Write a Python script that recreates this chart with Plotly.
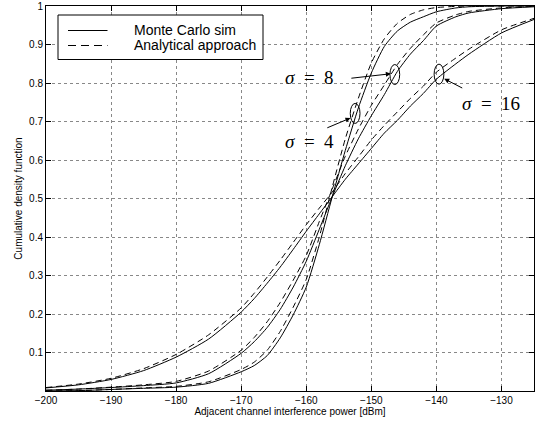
import plotly.graph_objects as go

# x positions (dBm)
x_vals = [-200, -195, -190, -185, -180, -175, -170, -168, -166, -164, -162, -160, -158, -156,
          -154, -152, -150, -148, -146, -144, -142, -140, -137, -135, -130, -125]

# sigma = 16
mc_s16 = [0.008, 0.016, 0.030, 0.053, 0.088, 0.135, 0.205, 0.240, 0.280, 0.322, 0.368, 0.415,
          0.460, 0.505, 0.550, 0.590, 0.630, 0.670, 0.703, 0.740, 0.773, 0.810, 0.850, 0.875,
          0.930, 0.965]
an_s16 = [0.009, 0.018, 0.033, 0.058, 0.095, 0.146, 0.216, 0.254, 0.296, 0.340, 0.386, 0.432,
          0.475, 0.517, 0.565, 0.608, 0.652, 0.690, 0.725, 0.760, 0.792, 0.828, 0.865, 0.888,
          0.938, 0.968]
# sigma = 8
mc_s8 = [0.002, 0.005, 0.009, 0.014, 0.021, 0.045, 0.098, 0.128, 0.165, 0.212, 0.270, 0.337,
         0.420, 0.505, 0.585, 0.655, 0.715, 0.770, 0.830, 0.875, 0.910, 0.948, 0.972, 0.982,
         0.993, 0.998]
an_s8 = [0.002, 0.005, 0.010, 0.016, 0.025, 0.052, 0.106, 0.139, 0.180, 0.230, 0.288, 0.352,
         0.440, 0.525, 0.610, 0.680, 0.742, 0.795, 0.848, 0.890, 0.925, 0.956, 0.977, 0.986,
         0.995, 0.999]
# sigma = 4
mc_s4 = [0.000, 0.001, 0.004, 0.007, 0.010, 0.020, 0.050, 0.066, 0.092, 0.138, 0.198, 0.270,
         0.380, 0.505, 0.625, 0.735, 0.826, 0.895, 0.935, 0.958, 0.972, 0.985, 0.995, 0.998,
         1.000, 1.000]
an_s4 = [0.000, 0.001, 0.004, 0.008, 0.012, 0.024, 0.056, 0.075, 0.106, 0.155, 0.218, 0.290,
         0.400, 0.530, 0.655, 0.760, 0.852, 0.915, 0.955, 0.978, 0.990, 0.996, 0.999, 1.000,
         1.000, 1.000]

x_ticks = [-200, -190, -180, -170, -160, -150, -140, -130]
y_ticks = [0.1, 0.2, 0.3, 0.4, 0.5, 0.6, 0.7, 0.8, 0.9, 1.0]
y_ticktext = ["0.1", "0.2", "0.3", "0.4", "0.5", "0.6", "0.7", "0.8", "0.9", "1"]

legend_names = ["Monte Carlo sim", "Analytical approach"]
legend_dashes = ["solid", "8px,5px"]

# sigma labels: (text, text_x, text_y, arrow head x, y, arrow tail x, y, ellipse cx, cy)
sigma_labels = [
    ("<i>σ</i>\u2002=\u20028", -159.45, 0.815, -147.0, 0.824, -153.3, 0.812, -146.39, 0.822),
    ("<i>σ</i>\u2002=\u20024", -159.55, 0.649, -153.2, 0.709, -157.0, 0.682, -152.49, 0.721),
    ("<i>σ</i>\u2002=\u200216", -131.6, 0.747, -138.8, 0.811, -135.8, 0.785, -139.6, 0.823),
]

# figure geometry (pixels)
W, H = 537, 421
ML, MR, MT, MB = 46, 3, 6, 30
PW, PH = W - ML - MR, H - MT - MB


def px_to_paper(px, py):
    return (px - ML) / PW, (H - MB - py) / PH


DASH = "6px,4px"
fig = go.Figure()
pairs = [(mc_s16, an_s16), (mc_s8, an_s8), (mc_s4, an_s4)]
for i, (mc, an) in enumerate(pairs):
    fig.add_trace(go.Scatter(x=x_vals, y=mc, mode="lines",
                             line=dict(color="black", width=1, shape="spline", smoothing=0.6),
                             name=legend_names[0], showlegend=False))
    fig.add_trace(go.Scatter(x=x_vals, y=an, mode="lines",
                             line=dict(color="black", width=1, dash=DASH, shape="spline", smoothing=0.6),
                             name=legend_names[1], showlegend=False))

for (txt, tx, ty, hx, hy, sx, sy, cx, cy) in sigma_labels:
    fig.add_annotation(x=tx, y=ty, xref="x", yref="y", text=txt, showarrow=False,
                       font=dict(family="Liberation Serif", size=19, color="black"))
    fig.add_annotation(x=hx, y=hy, ax=sx, ay=sy, xref="x", yref="y", axref="x", ayref="y",
                       text="", showarrow=True, arrowhead=2, arrowsize=1, arrowwidth=1,
                       arrowcolor="black")
    fig.add_shape(type="circle", xref="x", yref="y", x0=cx - 0.75, x1=cx + 0.75,
                  y0=cy - 0.026, y1=cy + 0.026, line=dict(color="black", width=1))

# legend box (drawn manually)
bx0, by0 = px_to_paper(58, 59.5)
bx1, by1 = px_to_paper(263, 15)
fig.add_shape(type="rect", xref="paper", yref="paper", x0=bx0, y0=by0, x1=bx1, y1=by1,
              fillcolor="white", line=dict(color="black", width=1), layer="above")
for k, (name, dsh, rowy) in enumerate(zip(legend_names, legend_dashes, [30.5, 45.5])):
    lx0, ly = px_to_paper(68, rowy)
    lx1, _ = px_to_paper(107.5, rowy)
    fig.add_shape(type="line", xref="paper", yref="paper", x0=lx0, x1=lx1, y0=ly, y1=ly,
                  line=dict(color="black", width=1, dash=dsh))
    tx, ty = px_to_paper(131.5, rowy)
    fig.add_annotation(x=tx, y=ty, xref="paper", yref="paper", text=name, showarrow=False,
                       xanchor="left", yanchor="middle",
                       font=dict(family="Liberation Sans", size=14, color="black"))

axis_common = dict(showline=True, linecolor="black", linewidth=1, mirror="ticks",
                   ticks="inside", ticklen=5, tickcolor="black", automargin=False,
                   showgrid=True, gridcolor="#888888", gridwidth=1, griddash="dot",
                   zeroline=False, tickfont=dict(family="Liberation Sans", size=10, color="black"))

fig.update_xaxes(range=[-200, -125], tickvals=x_ticks,
                 title=dict(text="Adjacent channel interference power [dBm]",
                            font=dict(family="Liberation Sans", size=10, color="black"), standoff=0),
                 **axis_common)
fig.update_yaxes(range=[0, 1], tickvals=y_ticks, ticktext=y_ticktext,
                 title=dict(text="Cumulative density function",
                            font=dict(family="Liberation Sans", size=10, color="black"), standoff=4),
                 **axis_common)

fig.update_layout(
    width=W, height=H,
    margin=dict(l=ML, r=MR, t=MT, b=MB),
    plot_bgcolor="white", paper_bgcolor="white",
    font=dict(family="Liberation Sans", color="black"),
    showlegend=False,
)

fig.write_html("out.html", config={"displayModeBar": False},
               post_script="document.body.style.margin='0';document.body.style.overflow='hidden';")
